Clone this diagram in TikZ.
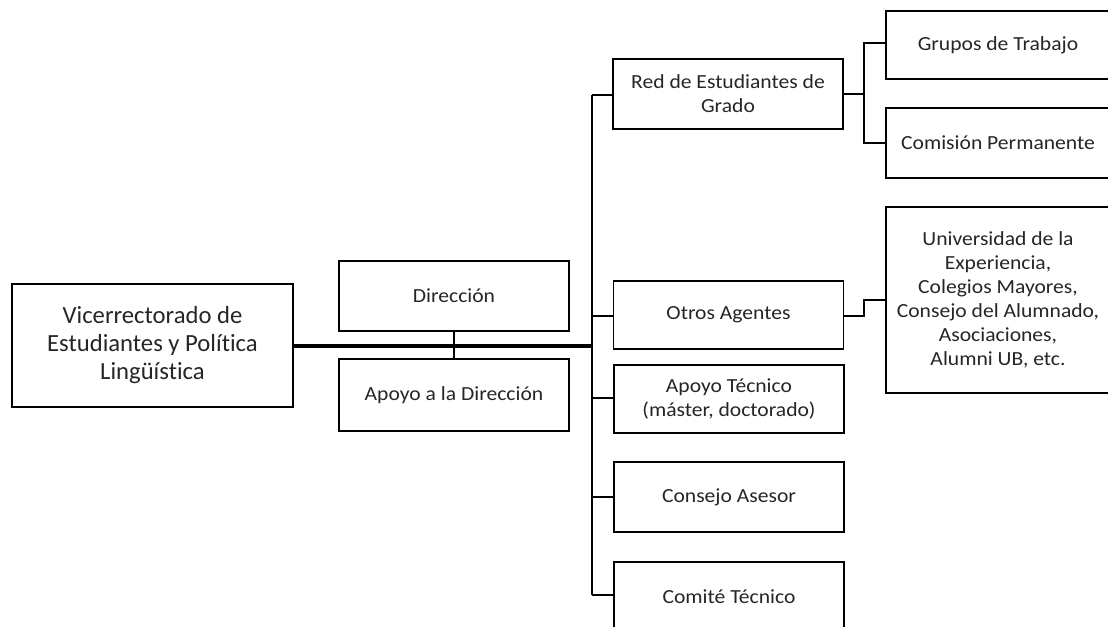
\documentclass[tikz,border=0pt]{standalone}
\usepackage{fontspec}
\setmainfont{Carlito}[Ligatures=CommonOff]
\newfontfamily\widefont{Carlito}[FakeStretch=1.08,Ligatures=CommonOff]
\begin{document}
\begin{tikzpicture}[x=0.75pt,y=-0.75pt,
  box/.style={draw, line width=1.1pt, fill=white, align=center, inner sep=0pt,
    text=black!85, minimum width=172.5pt, minimum height=52.5pt,
    font=\widefont\fontsize{15}{18}\selectfont},
  rbox/.style={box, minimum width=168pt},
  link/.style={line width=1.1pt},
  thick link/.style={line width=2.4pt}]
\useasboundingbox (0,0) rectangle (1108,626);
\clip (0,0) rectangle (1108,626);
% nodes
\node[box, minimum width=210.75pt, minimum height=92.25pt,
  font=\fontsize{18.5}{21}\selectfont] (vic) at (152.5,345.5)
  {Vicerrectorado de\\Estudiantes y Política\\Lingüística};
\node[box] (dir) at (454,296) {Dirección};
\node[box, minimum height=54pt] (apo) at (454,395) {Apoyo a la Dirección};
\node[box] (red) at (728,94) {Red de Estudiantes de\\Grado};
\node[box, minimum height=51pt] (otr) at (728.5,315) {Otros Agentes};
\node[box, minimum height=51pt] (apt) at (729,399) {Apoyo Técnico\\(máster, doctorado)};
\node[box] (cons) at (729,497) {Consejo Asesor};
\node[box] (com) at (729,597) {Comité Técnico};
\node[rbox, minimum height=51pt] (gru) at (998,45) {Grupos de Trabajo};
\node[rbox] (cmp) at (998,143) {Comisión Permanente};
\node[rbox, minimum height=139.5pt] (uni) at (998,300)
  {Universidad de la\\Experiencia,\\Colegios Mayores,\\Consejo del Alumnado,\\Asociaciones,\\Alumni UB, etc.};
% coordinates
\coordinate (ttop) at (592,95);
\coordinate (tbot) at (592,595);
\coordinate (tmid) at (592,346);
\coordinate (br) at (864,94);
% connectors
\draw[thick link] (vic.east |- tmid) -- (tmid);
\draw[link] (dir.south) -- (apo.north);
\draw[link] (ttop) -- (tbot);
\draw[link] (ttop) -- (red.west |- ttop);
\draw[link] (592,316) -- (otr.west |- 0,316);
\draw[link] (592,398) -- (apt.west |- 0,398);
\draw[link] (592,497) -- (cons.west);
\draw[link] (tbot) -- (com.west |- tbot);
\draw[link] (red.east) -- (br);
\draw[link] (gru.west |- 0,43) -| (br |- cmp.west) -- (cmp.west);
\draw[link] (otr.east |- 0,316) -- (864,316) -- (864,300) -- (uni.west);
\end{tikzpicture}
\end{document}
